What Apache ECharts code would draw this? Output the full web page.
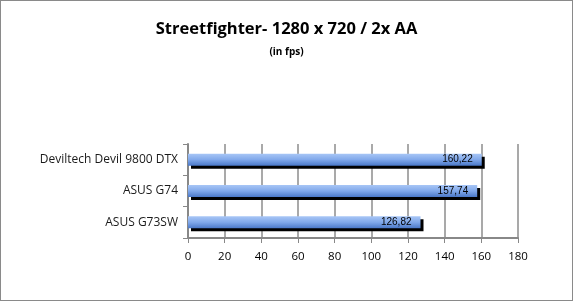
<!DOCTYPE html>
<html><head><meta charset="utf-8">
<script src="https://cdn.jsdelivr.net/npm/echarts@6/dist/echarts.min.js"></script>
<style>html,body{margin:0;padding:0;background:#fff}#c{width:573px;height:301px;box-sizing:border-box;border:1px solid #8a8a8a}</style>
</head><body><div id="c"></div>
<script>
const categories = ['ASUS G73SW', 'ASUS G74', 'Deviltech Devil 9800 DTX'];
const values = [126.82, 157.74, 160.22];
const xTicks = [0, 180, 20];

const chart = echarts.init(document.getElementById('c'));
chart.setOption({
  animation: false,
  title: [
    {text: 'Streetfighter- 1280 x 720 / 2x AA', left: 'center', top: 15,
     textStyle: {fontFamily: 'Open Sans', fontWeight: 'bold', fontSize: 16.5, color: '#000'}},
    {text: '(in fps)', left: 'center', top: 41,
     textStyle: {fontFamily: 'Open Sans', fontWeight: 'bold', fontSize: 10, color: '#000'}}
  ],
  grid: {left: 187, right: 54, top: 143, bottom: 62, containLabel: false},
  xAxis: {
    type: 'value', min: xTicks[0], max: xTicks[1], interval: xTicks[2],
    axisLine: {show: true, lineStyle: {color: '#888', width: 2}},
    axisTick: {show: true, length: 5, lineStyle: {color: '#888'}},
    splitLine: {show: true, lineStyle: {color: '#8c8c8c', width: 1.5}},
    axisLabel: {fontFamily: 'Open Sans', fontSize: 11.5, color: '#000', margin: 13}
  },
  yAxis: {
    type: 'category', data: categories,
    axisLine: {show: true, lineStyle: {color: '#888', width: 2}},
    axisTick: {show: true, length: 5, lineStyle: {color: '#888'}},
    axisLabel: {fontFamily: 'Open Sans', fontSize: 12, color: '#1a1a1a', margin: 10}
  },
  series: [{
    type: 'bar', data: values, barWidth: 12,
    itemStyle: {
      color: new echarts.graphic.LinearGradient(0, 0, 0, 1, [
        {offset: 0, color: '#a8c6f6'}, {offset: 0.5, color: '#80a8ea'}, {offset: 1, color: '#4a78c8'}
      ]),
      shadowColor: '#000', shadowBlur: 0, shadowOffsetX: 3, shadowOffsetY: 3
    },
    label: {
      show: true, position: 'insideRight', distance: 9,
      formatter: p => p.value.toFixed(2).replace('.', ','),
      fontFamily: 'Liberation Sans', fontSize: 10, color: '#000'
    }
  }]
});
</script></body></html>
